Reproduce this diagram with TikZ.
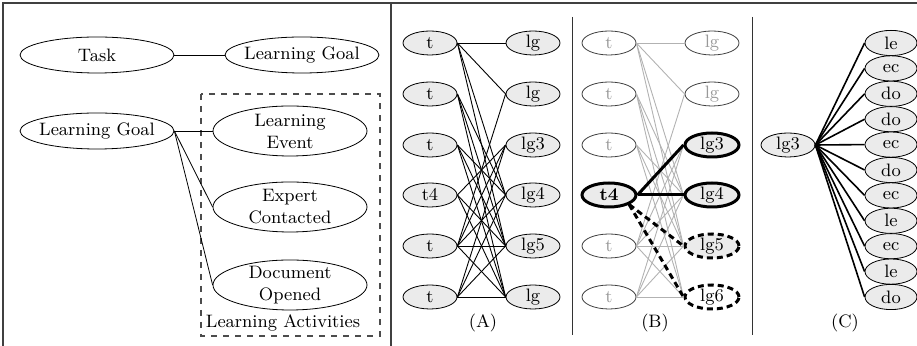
\documentclass[tikz,border=0pt]{standalone}
\usepackage{tikz}
\usetikzlibrary{shapes.geometric}

\begin{document}
\begin{tikzpicture}[x=0.5pt,y=0.5pt,
  every node/.style={inner sep=0pt,font=\small},
  big/.style={draw,ellipse,inner xsep=-12pt,inner ysep=-4pt,minimum width=77pt,minimum height=18pt},
  act/.style={draw,ellipse,inner xsep=-12pt,inner ysep=-7pt,minimum width=77pt,minimum height=25pt,align=center},
  sm/.style={draw,ellipse,fill=black!8,minimum width=27pt,minimum height=12pt},
  fade/.style={sm,fill=white,draw=black!75,text=black!40},
  hi/.style={sm,line width=1.5pt},
  hidash/.style={sm,line width=1.5pt,dash pattern=on 3pt off 2pt},
  cnode/.style={sm,inner ysep=-2pt,minimum width=26pt,minimum height=12.6pt},
  thin/.style={black,line width=0.45pt},
  pale/.style={black!30,line width=0.45pt}]
\useasboundingbox (0,0) rectangle (917,-346);
% frame
\draw [black!75,line width=1pt] (3,-346) -- (3,-3) -- (917,-3);
\draw [black!75,line width=1pt] (391,-3) -- (391,-346);
\draw [black!80] (572,-17) -- (572,-335);
\draw [black!80] (752,-17) -- (752,-335);
% left panel
\node [big] (task) at (97,-55) {Task};
\node [big] (goal) at (302,-55) {Learning Goal};
\node [big] (goalb) at (97,-131) {Learning Goal};
\node [act] (event) at (290,-131) {Learning\\Event};
\node [act] (expert) at (290,-207) {Expert\\Contacted};
\node [act] (doc) at (290,-285) {Document\\Opened};
\draw [black!70,dashed,line width=0.7pt] (201,-94) rectangle (380,-336);
\node (acts) at (283,-323) {Learning Activities};
\draw (task) -- (goal);
\draw (goalb.east) -- (event.west);
\draw (goalb.east) -- (expert.west);
\draw (goalb.east) -- (doc.west);
% (A)
\node [sm] (at1) at (430,-43) {t};
\node [sm] (at2) at (430,-94) {t};
\node [sm] (at3) at (430,-145) {t};
\node [sm] (at4) at (430,-195) {t4};
\node [sm] (at5) at (430,-246) {t};
\node [sm] (at6) at (430,-297) {t};
\node [sm] (alg1) at (533,-43) {lg};
\node [sm] (alg2) at (533,-94) {lg};
\node [sm] (alg3) at (533,-145) {lg3};
\node [sm] (alg4) at (533,-195) {lg4};
\node [sm] (alg5) at (533,-246) {lg5};
\node [sm] (alg6) at (533,-297) {lg};
\node (capa) at (483,-323) {(A)};
\draw [thin] (at1.east) -- (alg1.west);
\draw [thin] (at1.east) -- (alg2.west);
\draw [thin] (at1.east) -- (alg4.west);
\draw [thin] (at1.east) -- (alg5.west);
\draw [thin] (at2.east) -- (alg4.west);
\draw [thin] (at2.east) -- (alg5.west);
\draw [thin] (at2.east) -- (alg6.west);
\draw [thin] (at3.east) -- (alg4.west);
\draw [thin] (at3.east) -- (alg5.west);
\draw [thin] (at3.east) -- (alg6.west);
\draw [thin] (at4.east) -- (alg3.west);
\draw [thin] (at4.east) -- (alg5.west);
\draw [thin] (at4.east) -- (alg6.west);
\draw [thin] (at5.east) -- (alg2.west);
\draw [thin] (at5.east) -- (alg3.west);
\draw [thin] (at5.east) -- (alg4.west);
\draw [thin] (at5.east) -- (alg5.west);
\draw [thin] (at5.east) -- (alg6.west);
\draw [thin] (at6.east) -- (alg3.west);
\draw [thin] (at6.east) -- (alg4.west);
\draw [thin] (at6.east) -- (alg5.west);
\draw [thin] (at6.east) -- (alg6.west);
% (B)
\node [fade] (bt1) at (609,-43) {t};
\node [fade] (bt2) at (609,-94) {t};
\node [fade] (bt3) at (609,-145) {t};
\node [hi,font=\small\bfseries] (bt4) at (609,-195) {t4};
\node [fade] (bt5) at (609,-246) {t};
\node [fade] (bt6) at (609,-297) {t};
\node [fade] (blg1) at (712,-43) {lg};
\node [fade] (blg2) at (712,-94) {lg};
\node [hi] (blg3) at (712,-145) {lg3};
\node [hi] (blg4) at (712,-195) {lg4};
\node [hidash] (blg5) at (712,-246) {lg5};
\node [hidash,fill=white] (blg6) at (712,-297) {lg6};
\node (capb) at (655,-323) {(B)};
\draw [pale] (bt1.east) -- (blg1.west);
\draw [pale] (bt1.east) -- (blg2.west);
\draw [pale] (bt1.east) -- (blg4.west);
\draw [pale] (bt1.east) -- (blg5.west);
\draw [pale] (bt2.east) -- (blg4.west);
\draw [pale] (bt2.east) -- (blg5.west);
\draw [pale] (bt2.east) -- (blg6.west);
\draw [pale] (bt3.east) -- (blg4.west);
\draw [pale] (bt3.east) -- (blg5.west);
\draw [pale] (bt3.east) -- (blg6.west);
\draw [pale] (bt5.east) -- (blg2.west);
\draw [pale] (bt5.east) -- (blg3.west);
\draw [pale] (bt5.east) -- (blg4.west);
\draw [pale] (bt5.east) -- (blg5.west);
\draw [pale] (bt5.east) -- (blg6.west);
\draw [pale] (bt6.east) -- (blg3.west);
\draw [pale] (bt6.east) -- (blg4.west);
\draw [pale] (bt6.east) -- (blg5.west);
\draw [pale] (bt6.east) -- (blg6.west);
\draw [line width=1.5pt] (bt4.east) -- (blg3.west);
\draw [line width=1.5pt] (bt4.east) -- (blg4.west);
\draw [line width=1.5pt,dash pattern=on 3pt off 2pt] (bt4.south east) -- (blg5.west);
\draw [line width=1.5pt,dash pattern=on 3pt off 2pt] (bt4.south east) -- (blg6.west);
% (C)
\node [sm] (clg3) at (788,-145) {lg3};
\node [cnode] (c1) at (891,-43) {le};
\node [cnode] (c2) at (891,-68.4) {ec};
\node [cnode] (c3) at (891,-93.8) {do};
\node [cnode] (c4) at (891,-119.2) {do};
\node [cnode] (c5) at (891,-144.6) {ec};
\node [cnode] (c6) at (891,-170) {do};
\node [cnode] (c7) at (891,-195.4) {ec};
\node [cnode] (c8) at (891,-220.8) {le};
\node [cnode] (c9) at (891,-246.2) {ec};
\node [cnode] (c10) at (891,-271.6) {le};
\node [cnode] (c11) at (891,-297) {do};
\node (capc) at (845,-323) {(C)};
\draw [line width=0.8pt] (clg3.east) -- (c1.west);
\draw [line width=0.8pt] (clg3.east) -- (c2.west);
\draw [line width=0.8pt] (clg3.east) -- (c3.west);
\draw [line width=0.8pt] (clg3.east) -- (c4.west);
\draw [line width=0.8pt] (clg3.east) -- (c5.west);
\draw [line width=0.8pt] (clg3.east) -- (c6.west);
\draw [line width=0.8pt] (clg3.east) -- (c7.west);
\draw [line width=0.8pt] (clg3.east) -- (c8.west);
\draw [line width=0.8pt] (clg3.east) -- (c9.west);
\draw [line width=0.8pt] (clg3.east) -- (c10.west);
\draw [line width=0.8pt] (clg3.east) -- (c11.west);
\end{tikzpicture}
\end{document}
